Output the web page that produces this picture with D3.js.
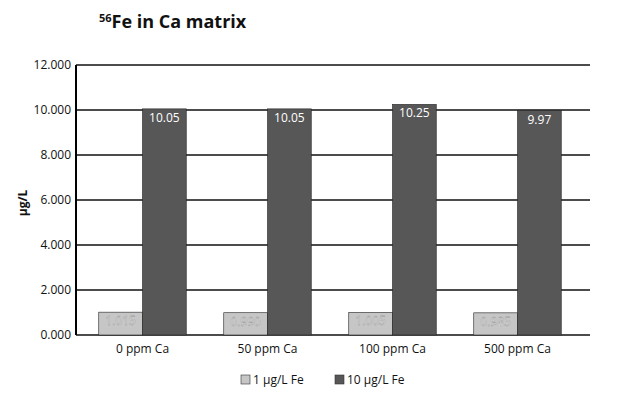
<!DOCTYPE html>
<html>
<head>
<meta charset="utf-8">
<script src="https://cdn.jsdelivr.net/npm/d3@7"></script>
<style>
  body { margin: 0; background: #fff; }
  text { font-family: "Open Sans", "DejaVu Sans", sans-serif; }
</style>
</head>
<body>
<svg id="chart"></svg>
<script>
// Data
var categories = ['0 ppm Ca', '50 ppm Ca', '100 ppm Ca', '500 ppm Ca'];
var seriesNames = ['1 µg/L Fe', '10 µg/L Fe'];
var lowValues = [1.015, 0.990, 1.005, 0.985];
var highValues = [10.05, 10.05, 10.25, 9.97];
var lowLabels = ['1.015', '0.990', '1.005', '0.985'];
var highLabels = ['10.05', '10.05', '10.25', '9.97'];
var yTicks = [0, 2, 4, 6, 8, 10, 12];

var config = {
  svgWidth: 623,
  svgHeight: 404,
  plotLeft: 76,
  plotRight: 590,
  plotTop: 65,
  plotBottom: 335,
  colors: ['#c6c6c6', '#575757'],
}

var svg = d3.select('#chart')
    .attr('width', config.svgWidth)
    .attr('height', config.svgHeight);

// Scales
var x0 = d3.scaleBand()
  .domain(categories)
  .range([80, 580])
  .paddingInner(0.3)
  .paddingOuter(0.15);

var x1 = d3.scaleBand()
  .domain(seriesNames)
  .range([0, x0.bandwidth()]);

var y = d3.scaleLinear()
  .domain([0, 12])
  .range([config.plotBottom, config.plotTop]);

// Gridlines
svg.append('g')
  .selectAll('line')
  .data(yTicks)
  .join('line')
    .attr('x1', config.plotLeft)
    .attr('x2', config.plotRight)
    .attr('y1', function(d) { return y(d); })
    .attr('y2', function(d) { return y(d); })
    .attr('stroke', '#111')
    .attr('stroke-width', 1.5);

// Bars
var rows = categories.map(function(c, i) {
  return [
    {cat: c, s: seriesNames[0], v: lowValues[i], label: lowLabels[i], k: 0},
    {cat: c, s: seriesNames[1], v: highValues[i], label: highLabels[i], k: 1}
  ];
});
var groups = svg.append('g')
  .selectAll('g')
  .data(rows)
  .join('g')
    .attr('transform', function(d) { return 'translate(' + x0(d[0].cat) + ',0)'; });

groups.selectAll('rect')
  .data(function(d) { return d; })
  .join('rect')
    .attr('x', function(d) { return x1(d.s); })
    .attr('y', function(d) { return y(d.v); })
    .attr('width', x1.bandwidth())
    .attr('height', function(d) { return y(0) - y(d.v); })
    .attr('fill', function(d) { return config.colors[d.k]; })
    .attr('stroke', '#222')
    .attr('stroke-width', 0.6);

groups.selectAll('text.val')
  .data(function(d) { return d; })
  .join('text')
    .attr('class', 'val')
    .attr('x', function(d) { return x1(d.s) + x1.bandwidth() / 2; })
    .attr('y', function(d) { return y(d.v) + 13; })
    .attr('text-anchor', 'middle')
    .attr('font-size', '12px')
    .attr('fill', function(d) { return d.k ? '#fff' : '#f4f4f4'; })
    .attr('stroke', function(d) { return d.k ? 'none' : '#777'; })
    .attr('stroke-width', 0.3)
    .text(function(d) { return d.label; });

// Axes
svg.append('line')
  .attr('x1', config.plotLeft).attr('x2', config.plotLeft)
  .attr('y1', y(12)).attr('y2', y(0))
  .attr('stroke', '#000').attr('stroke-width', 2);

var yAxis = svg.append('g')
  .attr('transform', 'translate(' + config.plotLeft + ',0)')
  .call(d3.axisLeft(y).tickValues(yTicks).tickSize(0).tickPadding(5)
    .tickFormat(d3.format('.3f')));
yAxis.select('.domain').remove();
yAxis.selectAll('text')
  .attr('font-family', '"Open Sans", sans-serif')
  .attr('font-size', '12px')
  .attr('font-weight', 500)
  .attr('fill', '#111');

var xAxis = svg.append('g')
  .attr('transform', 'translate(0,' + y(0) + ')')
  .call(d3.axisBottom(x0).tickSize(0).tickPadding(9));
xAxis.select('.domain').remove();
xAxis.selectAll('text')
  .attr('font-family', '"Open Sans", sans-serif')
  .attr('font-size', '12px')
  .attr('font-weight', 500)
  .attr('fill', '#111');

// Y axis title
svg.append('text')
  .attr('transform', 'translate(27,203) rotate(-90)')
  .attr('text-anchor', 'middle')
  .attr('font-size', '12px')
  .attr('font-weight', 'bold')
  .attr('fill', '#111')
  .text('µg/L');

// Chart title
var title = svg.append('text')
  .attr('x', 99)
  .attr('y', 28)
  .attr('font-size', '18px')
  .attr('font-weight', 'bold')
  .attr('fill', '#111');
title.append('tspan').attr('font-size', '11px').attr('dy', -6).text('56');
title.append('tspan').attr('dy', 6).text('Fe in Ca matrix');

// Legend
var legendX = [241, 335];
var legend = svg.append('g')
  .selectAll('g')
  .data(seriesNames)
  .join('g')
    .attr('transform', function(d, i) { return 'translate(' + legendX[i] + ',375)'; });
legend.append('rect')
  .attr('width', 9).attr('height', 9)
  .attr('fill', function(d, i) { return config.colors[i]; })
  .attr('stroke', '#333').attr('stroke-width', 0.6);
legend.append('text')
  .attr('x', 12).attr('y', 9)
  .attr('font-size', '12px')
  .attr('fill', '#111')
  .text(function(d) { return d; });
</script>
</body>
</html>
